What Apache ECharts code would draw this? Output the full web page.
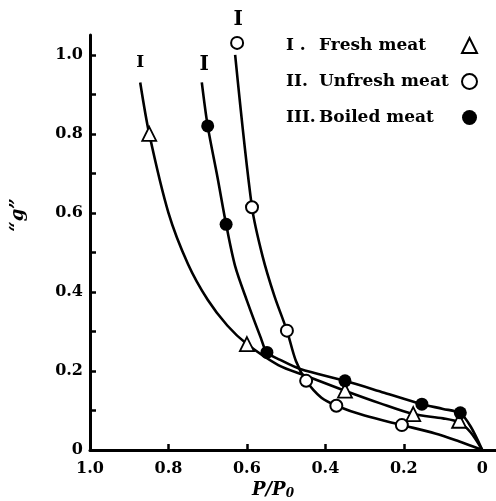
<!DOCTYPE html>
<html>
<head>
<meta charset="utf-8">
<script src="https://cdn.jsdelivr.net/npm/echarts@6/dist/echarts.min.js"></script>
<style>
  html, body { margin: 0; padding: 0; background: #fff; }
  #chart { width: 496px; height: 501px; }
</style>
</head>
<body>
<div id="chart"></div>
<script>
// tick values
var xLabelValues = [0, 0.2, 0.4, 0.6, 0.8, 1.0];
var xTickValues = [0.2, 0.4, 0.6, 0.8];
var yLabelValues = [0, 0.2, 0.4, 0.6, 0.8, 1.0];
var yTickValues = [0.1, 0.2, 0.3, 0.4, 0.5, 0.6, 0.7, 0.8, 0.9, 1.0];

// measured points [P/P0, "g"]
var freshPts = [[0.849, 0.80], [0.60, 0.268], [0.35, 0.15], [0.176, 0.091], [0.059, 0.074]];
var unfreshPts = [[0.625, 1.03], [0.587, 0.614], [0.498, 0.302], [0.449, 0.175], [0.372, 0.112], [0.205, 0.063]];
var boiledPts = [[0.70, 0.82], [0.653, 0.571], [0.549, 0.247], [0.35, 0.175], [0.154, 0.116], [0.056, 0.094]];

// drawn curves
var freshCurve = [[0.872, 0.93], [0.849, 0.80], [0.80, 0.60], [0.75, 0.47], [0.70, 0.38], [0.65, 0.315],
  [0.60, 0.268], [0.52, 0.215], [0.45, 0.188], [0.35, 0.15], [0.26, 0.118], [0.176, 0.091],
  [0.10, 0.08], [0.059, 0.07], [0.03, 0.045], [0, 0]];
var unfreshCurve = [[0.63, 1.0], [0.587, 0.614], [0.56, 0.49], [0.53, 0.39], [0.498, 0.302],
  [0.475, 0.225], [0.449, 0.175], [0.41, 0.132], [0.372, 0.112], [0.30, 0.087], [0.205, 0.063],
  [0.12, 0.042], [0.06, 0.022], [0, 0]];
var boiledCurve = [[0.715, 0.93], [0.70, 0.82], [0.675, 0.69], [0.653, 0.571], [0.63, 0.465], [0.60, 0.378],
  [0.565, 0.285], [0.549, 0.247], [0.515, 0.228], [0.464, 0.205], [0.35, 0.175], [0.25, 0.145], [0.154, 0.116],
  [0.10, 0.104], [0.056, 0.093], [0.03, 0.06], [0, 0]];

// curve tags [text, P/P0, "g"]
var curveTags = [['I', 0.872, 0.98], ['I', 0.709, 0.975], ['I', 0.622, 1.089]];

var legendText = {
  'Fresh meat': '{n|I .}{t|Fresh meat}',
  'Unfresh meat': '{n|II.}{t|Unfresh meat}',
  'Boiled meat': '{n|III.}{t|Boiled meat}'
};

var serif = '"DejaVu Serif", serif';
var chart = echarts.init(document.getElementById('chart'));

function fmt(v) {
  return v === 0 ? '0' : v.toFixed(1);
}

function curve(data) {
  return {
    type: 'line', data: data, smooth: 0.3, showSymbol: false, silent: true, z: 2,
    lineStyle: { color: '#000', width: 2.6 }
  };
}

var option = {
  animation: false,
  backgroundColor: '#fff',
  grid: { left: 90, right: 0, top: 35, bottom: 51 },
  xAxis: {
    type: 'value', inverse: true, min: -0.035, max: 1.0,
    splitLine: { show: false },
    axisLine: { onZero: false, lineStyle: { color: '#000', width: 3 } },
    axisTick: { inside: true, length: 6, customValues: xTickValues, lineStyle: { color: '#000', width: 2.5 } },
    axisLabel: {
      customValues: xLabelValues, formatter: fmt, margin: 11,
      color: '#000', fontFamily: serif, fontWeight: 'bold', fontSize: 16
    }
  },
  yAxis: {
    type: 'value', min: 0, max: 1.05, position: 'left',
    splitLine: { show: false },
    axisLine: { onZero: false, lineStyle: { color: '#000', width: 3 } },
    axisTick: { inside: true, length: 6, customValues: yTickValues, lineStyle: { color: '#000', width: 2.5 } },
    axisLabel: {
      customValues: yLabelValues, formatter: fmt, margin: 7,
      color: '#000', fontFamily: serif, fontWeight: 'bold', fontSize: 16
    }
  },
  legend: {
    orient: 'vertical', left: 281, top: 32, align: 'right',
    itemWidth: 15, itemHeight: 15, itemGap: 19,
    data: ['Fresh meat', 'Unfresh meat', 'Boiled meat'],
    formatter: function (name) { return legendText[name]; },
    textStyle: {
      color: '#000', fontFamily: serif, fontWeight: 'bold', fontSize: 17,
      rich: {
        n: { width: 33, align: 'left', fontFamily: serif, fontWeight: 'bold', fontSize: 17 },
        t: { width: 138, align: 'left', fontFamily: serif, fontWeight: 'bold', fontSize: 17 }
      }
    }
  },
  series: [
    curve(freshCurve),
    curve(unfreshCurve),
    curve(boiledCurve),
    {
      name: 'Fresh meat', type: 'scatter', data: freshPts, symbol: 'triangle', symbolSize: 14, z: 3,
      itemStyle: { color: '#fff', borderColor: '#000', borderWidth: 1.8, opacity: 1 }
    },
    {
      name: 'Unfresh meat', type: 'scatter', data: unfreshPts, symbol: 'circle', symbolSize: 12, z: 3,
      itemStyle: { color: '#fff', borderColor: '#000', borderWidth: 2, opacity: 1 }
    },
    {
      name: 'Boiled meat', type: 'scatter', data: boiledPts, symbol: 'circle', symbolSize: 13, z: 3,
      itemStyle: { color: '#000', borderColor: '#000', borderWidth: 0, opacity: 1 }
    }
  ]
};

chart.setOption(option);

var tags = curveTags.map(function (t, i) {
  var p = chart.convertToPixel({ gridIndex: 0 }, [t[1], t[2]]);
  return {
    type: 'text', x: p[0], y: p[1],
    style: {
      text: t[0], fill: '#000', align: 'center', verticalAlign: 'middle',
      font: (i === 0 ? 'bold 17px ' : '900 20px ') + serif
    }
  };
});

chart.setOption({
  graphic: tags.concat([
    {
      type: 'text', x: 18, y: 215, rotation: Math.PI / 2,
      style: { text: '\u201Cg\u201D', fill: '#000', align: 'center', verticalAlign: 'middle', font: 'italic bold 18px ' + serif }
    },
    {
      type: 'text', x: 273, y: 490,
      style: {
        text: '{a|P/P}{b|0}', align: 'center', verticalAlign: 'middle',
        rich: {
          a: { fill: '#000', fontFamily: serif, fontStyle: 'italic', fontWeight: 'bold', fontSize: 18 },
          b: { fill: '#000', fontFamily: serif, fontStyle: 'italic', fontWeight: 'bold', fontSize: 12, verticalAlign: 'bottom', padding: [8, 0, 0, 0] }
        }
      }
    }
  ])
});
</script>
</body>
</html>
